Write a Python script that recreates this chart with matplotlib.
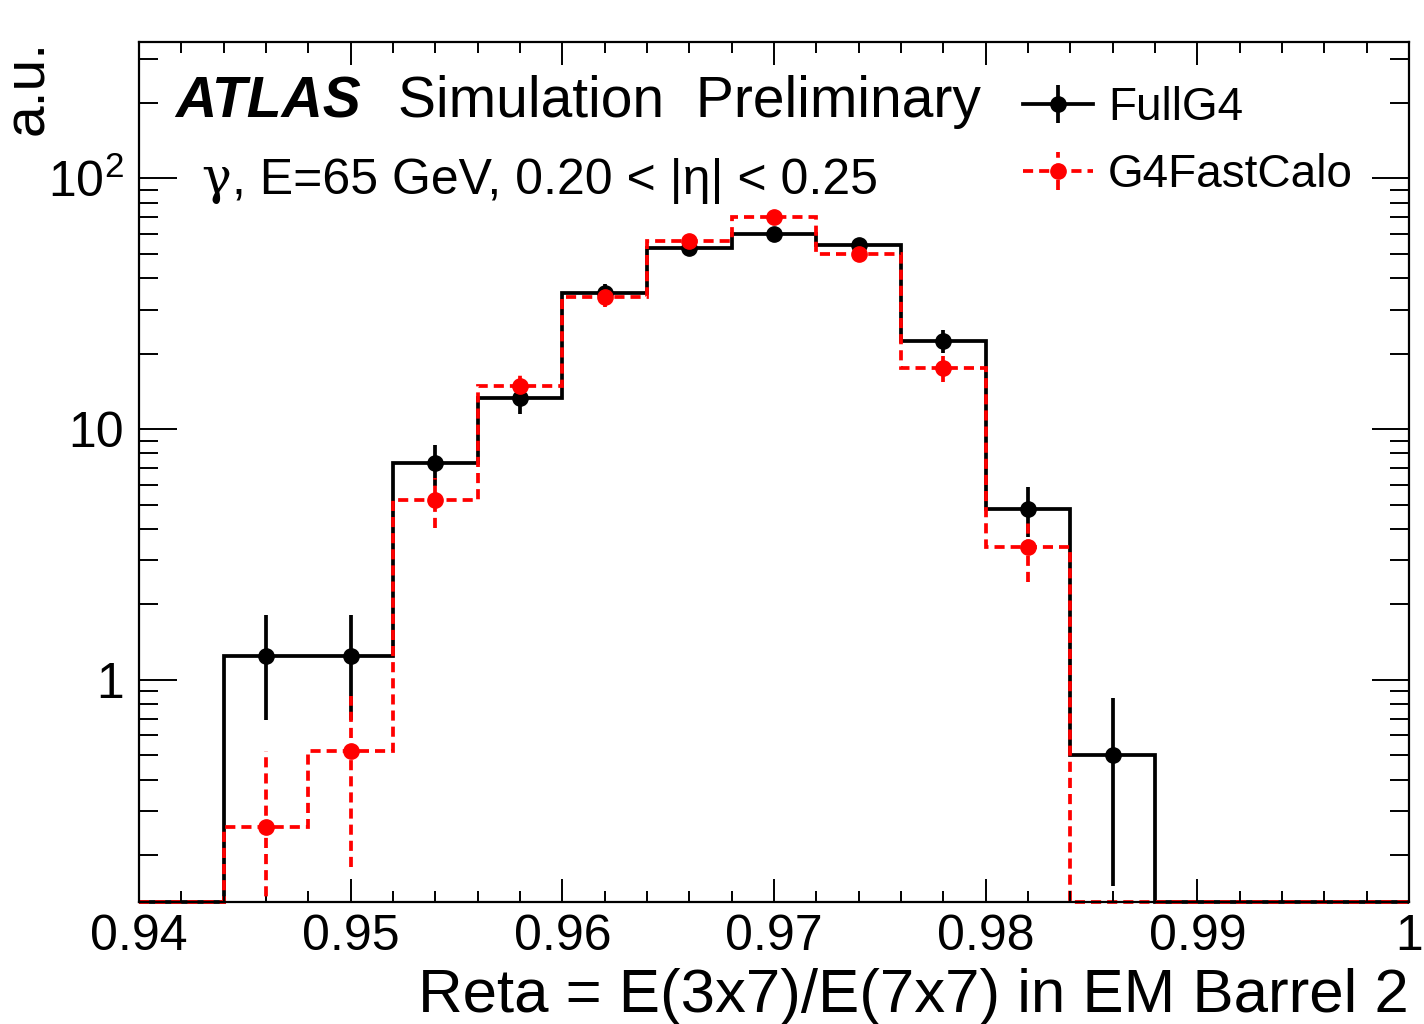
import numpy as np
import matplotlib as mpl
mpl.use('Agg')
import matplotlib.pyplot as plt
from matplotlib.lines import Line2D
from matplotlib.legend_handler import HandlerTuple, HandlerErrorbar
from matplotlib.ticker import FixedLocator, FixedFormatter, NullFormatter, MultipleLocator

plt.rcParams['font.family'] = ['Liberation Sans', 'DejaVu Sans']
plt.rcParams['mathtext.fontset'] = 'custom'
plt.rcParams['mathtext.rm'] = 'Liberation Sans'

# Reta histogram, bins of 0.004 from 0.94 to 1.0
edges = np.linspace(0.94, 1.0, 16)
full_g4 = [0, 1.25, 1.25, 7.3, 13.3, 34.8, 52.6, 59.8, 54.3, 22.4, 4.8, 0.5, 0, 0, 0]
full_g4_err = [0, 0.56, 0.56, 1.35, 1.82, 2.95, 3.63, 3.87, 3.68, 2.37, 1.10, 0.35, 0, 0, 0]
fast_calo = [0, 0.26, 0.52, 5.2, 14.8, 33.6, 56.1, 69.9, 49.9, 17.5, 3.39, 0, 0, 0, 0]
fast_calo_err = [0, 0.26, 0.34, 1.16, 1.96, 2.96, 3.82, 4.26, 3.61, 2.13, 0.94, 0, 0, 0, 0]

ymin, ymax = 0.13, 350
lw = 2.7
dash = (0, (2.7, 1.6))
ms = 11

fig = plt.figure(figsize=(14.24, 10.24), dpi=100)
ax = fig.add_axes([139/1424, 1 - 902/1024, 1270/1424, 860/1024])
ax.set_yscale('log')
ax.set_xlim(0.94, 1.0)
ax.set_ylim(ymin, ymax)

centers = 0.5 * (edges[1:] + edges[:-1])

def draw(vals, errs, color, ls):
    vals = np.array(vals, dtype=float)
    errs = np.array(errs, dtype=float)
    ax.stairs(np.where(vals > 0, vals, ymin), edges, baseline=None,
              color=color, lw=lw, linestyle=ls, clip_on=False)
    m = vals > 0
    lo = np.minimum(errs[m], vals[m] - ymin * 0.5)
    eb = ax.errorbar(centers[m], vals[m], yerr=[lo, errs[m]], fmt='o', color=color,
                     ms=ms, elinewidth=lw, capsize=0)
    eb[2][0].set_linestyle(ls)
    return eb

eb_full = draw(full_g4, full_g4_err, 'black', '-')
eb_fast = draw(fast_calo, fast_calo_err, 'red', dash)

# axis styling
for sp in ax.spines.values():
    sp.set_linewidth(1.6)
ax.xaxis.set_minor_locator(MultipleLocator(0.002))
ax.set_xticks([0.94, 0.95, 0.96, 0.97, 0.98, 0.99, 1.0])
ax.set_xticklabels(['0.94', '0.95', '0.96', '0.97', '0.98', '0.99', '1'])
ax.yaxis.set_major_locator(FixedLocator([1, 10, 100]))
ax.yaxis.set_major_formatter(FixedFormatter(['1', '10', r'$\mathdefault{10^{2}}$']))
ax.yaxis.set_minor_formatter(NullFormatter())
ax.tick_params(which='both', direction='in', top=True, right=True, width=1.4,
               labelsize=36)
ax.tick_params(axis='x', which='major', length=16.5, pad=9)
ax.tick_params(axis='x', which='minor', length=8)
ax.tick_params(axis='y', which='major', length=27, pad=11)
ax.tick_params(axis='y', which='minor', length=13.7)

fig.text(1409/1424, 1 - 1012/1024, 'Reta = E(3x7)/E(7x7) in EM Barrel 2',
         ha='right', va='baseline', fontsize=44.5)
fig.text(43/1424, 1 - 40/1024, 'a.u.', rotation=90, rotation_mode='anchor',
         ha='right', va='baseline', fontsize=41)

fig.text(175/1424, 1 - 117/1024, 'ATLAS', fontsize=41, fontweight='bold',
         fontstyle='italic', ha='left', va='baseline')
fig.text(398/1424, 1 - 117/1024, 'Simulation  Preliminary', fontsize=41,
         ha='left', va='baseline')
g = fig.text(201/1424, 1 - 193/1024, 'γ', fontsize=36, family='DejaVu Serif',
             ha='left', va='baseline')
ax.annotate(', E=65 GeV, 0.20 < |η| < 0.25', xy=(1, 0), xycoords=g,
            xytext=(1, 0), textcoords='offset points', fontsize=36,
            ha='left', va='bottom')

h_full = (Line2D([], [], color='black', lw=lw), eb_full)
h_fast = (Line2D([], [], color='red', lw=lw, linestyle=dash), eb_fast)
leg = ax.legend([h_full, h_fast], ['FullG4', 'G4FastCalo'],
                handler_map={tuple: HandlerTuple(ndivide=1),
                             type(eb_full): HandlerErrorbar(yerr_size=0.42)},
                loc='upper left', bbox_to_anchor=(1023/1424, 1 - 86/1024),
                bbox_transform=fig.transFigure, frameon=False, fontsize=33,
                handlelength=1.52, handletextpad=0.33, labelspacing=0.5,
                borderpad=0, borderaxespad=0)

fig.savefig('out.png', dpi=100)
